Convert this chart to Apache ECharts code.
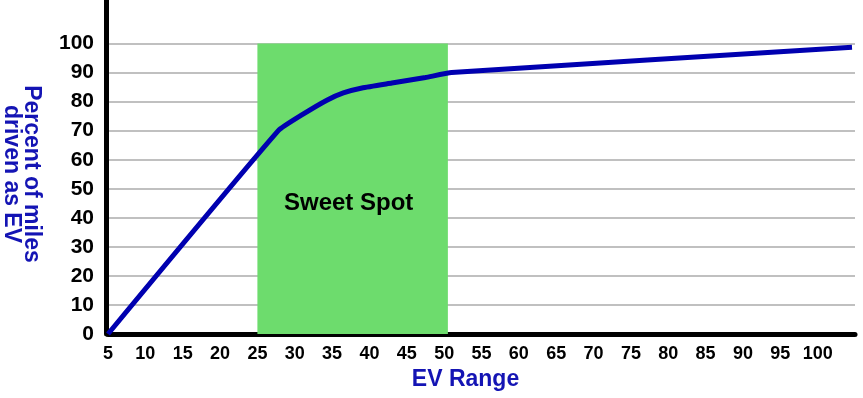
<!DOCTYPE html>
<html>
<head>
<meta charset="utf-8">
<script src="https://cdn.jsdelivr.net/npm/echarts@6/dist/echarts.min.js"></script>
<style>
  html, body { margin: 0; padding: 0; background: #fff; }
  #chart { width: 863px; height: 398px; }
</style>
</head>
<body>
<div id="chart"></div>
<script>
// EV range (miles) vs percent of miles driven as EV
var rangeValues = [5, 27.8, 31, 34.3, 36.5, 39, 43, 47.5, 51, 104.6];
var percentValues = [0, 70, 75.5, 80.5, 83, 84.7, 86.4, 88.3, 90, 98.7];
var sweetSpot = [25, 50.5];          // x extent of the green band
var sweetSpotHeight = [0, 100];      // y extent of the green band
var yTicks = [0, 10, 20, 30, 40, 50, 60, 70, 80, 90, 100];

var font = "'Liberation Sans', Arial, sans-serif";
var blue = '#1414b4';
var grey = '#c0c0c0';

var points = rangeValues.map(function (x, i) {
    return [x, percentValues[i]];
});

// one colour per split line: hide the one at 0 and the ones above 100
var splitColors = yTicks.map(function (v) {
    return v === 0 ? 'rgba(0,0,0,0)' : grey;
}).concat(['rgba(0,0,0,0)', 'rgba(0,0,0,0)', 'rgba(0,0,0,0)']);

var chart = echarts.init(document.getElementById('chart'));
chart.setOption({
    animation: false,
    backgroundColor: '#fff',
    grid: { left: 108, right: 8, top: 0, bottom: 64, outerBoundsMode: 'none', containLabel: false },
    xAxis: {
        type: 'value',
        min: 5,
        max: 105,
        interval: 5,
        offset: 3,
        name: 'EV Range',
        nameLocation: 'middle',
        nameGap: 27,
        nameTextStyle: {
            color: blue, fontFamily: font, fontWeight: 'bold', fontSize: 23,
            padding: [0, 32, 0, 0]
        },
        axisLine: { lineStyle: { color: '#000', width: 5 } },
        axisTick: { show: false },
        splitLine: { show: false },
        axisLabel: {
            color: '#000', fontFamily: font, fontWeight: 'bold', fontSize: 18,
            margin: 8,
            formatter: function (v) { return v > 100 ? '' : String(v); }
        }
    },
    yAxis: {
        type: 'value',
        min: 0,
        max: 115,
        interval: 10,
        offset: 2,
        name: 'Percent of miles\ndriven as EV',
        nameLocation: 'middle',
        nameRotate: -90,
        nameGap: 65,
        nameTextStyle: {
            color: blue, fontFamily: font, fontWeight: 'bold', fontSize: 23,
            lineHeight: 20, align: 'center',
            padding: [0, 0, 0, 14]
        },
        axisLine: { show: true, lineStyle: { color: '#000', width: 5 } },
        axisTick: { show: false },
        splitLine: { show: true, lineStyle: { color: splitColors, width: 2 } },
        axisLabel: {
            color: '#000', fontFamily: font, fontWeight: 'bold', fontSize: 21,
            margin: 12,
            formatter: function (v) { return v > 100 ? '' : String(v); }
        }
    },
    series: [
        {
            // holder for the green band, kept under the grid lines
            type: 'line',
            z: -1,
            data: [],
            markArea: {
                silent: true,
                itemStyle: { color: '#6ddc6d' },
                label: {
                    show: true,
                    position: 'inside',
                    offset: [-4, 15],
                    color: '#000',
                    fontFamily: font,
                    fontWeight: 'bold',
                    fontSize: 24
                },
                data: [[
                    { name: 'Sweet Spot', xAxis: sweetSpot[0], yAxis: sweetSpotHeight[0] },
                    { xAxis: sweetSpot[1], yAxis: sweetSpotHeight[1] }
                ]]
            }
        },
        {
            type: 'line',
            data: points,
            smooth: 0.15,
            symbol: 'none',
            lineStyle: { color: '#0000b0', width: 5 }
        }
    ]
});
</script>
</body>
</html>
